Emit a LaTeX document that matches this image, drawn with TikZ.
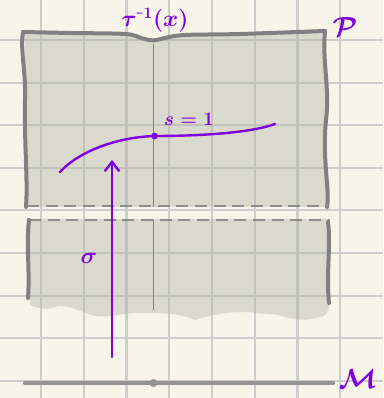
\documentclass[tikz,border=0pt]{standalone}
\usetikzlibrary{arrows.meta}
\definecolor{paper}{RGB}{247,245,234}
\definecolor{gridc}{RGB}{205,205,205}
\definecolor{sheet}{RGB}{180,180,165}
\definecolor{edgec}{RGB}{128,128,128}
\definecolor{viol}{RGB}{128,0,224}
\tikzset{
  gridline/.style={draw=gridc, line width=1.6pt},
  sheetfill/.style={fill=sheet, fill opacity=0.42, draw=none},
  sheetedge/.style={draw=edgec, line width=3pt, line cap=round, line join=round},
  cutedge/.style={draw=edgec!90, line width=1.5pt, dash pattern=on 9pt off 5pt},
  fibre/.style={draw=edgec, line width=1.1pt},
  curve/.style={draw=viol, line width=1.8pt, line cap=round},
  lab/.style={text=viol, inner sep=0pt},
  base/.style={draw=edgec!85, line width=3.2pt, line cap=round}
}
\begin{document}
\begin{tikzpicture}[x=0.75pt,y=-0.75pt]
\useasboundingbox (0,0) rectangle (383,398);
\fill[paper] (0,0) rectangle (383,398);
% grid
\foreach \gx in {41,84,126.5,169,212,255,297.5,340}
  \draw[gridline] (\gx,0) -- (\gx,398);
\foreach \gy in {40,83,125,168,210,253,296,338,381}
  \draw[gridline] (0,\gy) -- (383,\gy);
% upper sheet
\path[sheetfill] plot[smooth, tension=0.6] coordinates {(23,32) (70,33) (125,34) (141,38) (153,40.5) (165,38) (185,35) (240,34) (325,31)}
  .. controls (322,60) and (330,90) .. (326,120)
  .. controls (322,160) and (330,190) .. (327,207)
  -- (26,207) .. controls (24,180) and (28,140) .. (25,100)
  .. controls (22,70) and (28,50) .. (23,32) -- cycle;
% lower sheet with blobby bottom
\path[sheetfill] (28,219) -- (330,219) -- (329,303)
  .. controls (330,312) and (325,318) .. (315,318)
  .. controls (305,322) and (295,318) .. (288,318)
  .. controls (275,312) and (262,315) .. (250,312)
  .. controls (235,312) and (220,312) .. (195,320)
  .. controls (180,313) and (160,313) .. (140,313)
  .. controls (120,313) and (110,318) .. (95,316)
  .. controls (80,312) and (70,305) .. (58,306)
  .. controls (50,310) and (40,310) .. (30,305)
  -- (28,219) -- cycle;
% fibre line
\coordinate (ftop) at (153.5,44);
\coordinate (fmid1) at (153.5,207);
\coordinate (fmid2) at (153.5,220);
\coordinate (fbot) at (153.5,310);
\draw[fibre] (ftop) -- (fmid1);
\draw[fibre] (fmid2) -- (fbot);
% upper edges
\draw[sheetedge] (26,207) .. controls (28,180) and (24,140) .. (25,100)
  .. controls (26,70) and (20,50) .. (23,32);
\draw[sheetedge] plot[smooth, tension=0.6] coordinates {(23,32) (70,33) (125,34) (141,38) (153,40.5) (165,38) (185,35) (240,34) (325,31)};
\draw[sheetedge] (325,31) .. controls (322,60) and (330,90) .. (326,120)
  .. controls (322,160) and (330,190) .. (327,207);
% cut lines
\draw[cutedge] (27,206) -- (328,206);
\draw[cutedge] (29,220) -- (330,220);
% lower edges
\draw[sheetedge] (29,220) .. controls (26,245) and (30,270) .. (28,298);
\draw[sheetedge] (328,222) .. controls (331,245) and (326,275) .. (329,303);
% purple section curve
\coordinate (cstart) at (60,172);
\coordinate (cend) at (275,124);
\node[circle, fill=viol, inner sep=0pt, minimum size=5pt] (pt) at (154.5,136) {};
\draw[curve] (cstart) .. controls (80,150) and (120,137) .. (pt.center)
  .. controls (200,136) and (250,133) .. (cend);
% arrow
\coordinate (afoot) at (112,357);
\coordinate (ahead) at (112,160);
\draw[curve, -{Straight Barb[length=7pt,width=11pt,line width=1.8pt]}] (afoot) -- (ahead);
% base line
\coordinate (mleft) at (25,383);
\coordinate (mright) at (333,383);
\draw[base] (mleft) -- (mright);
\node[circle, fill=edgec!85, inner sep=0pt, minimum size=6pt] (x) at (153.5,383) {};
% labels
\node[lab, font=\fontsize{17}{19}\selectfont\boldmath] (tau) at (155,20) {$\tau^{\mbox{-}1}(x)$};
\node[lab, font=\fontsize{22}{24}\selectfont\boldmath] (P) at (345,27) {$\mathcal{P}$};
\node[lab, font=\fontsize{15}{17}\selectfont\boldmath] (s) at (189,119) {$s=1$};
\node[lab, font=\fontsize{18}{20}\selectfont\boldmath] (sig) at (89,258) {$\sigma$};
\node[lab, font=\fontsize{20}{22}\selectfont\boldmath] (M) at (358,379) {$\mathcal{M}$};
\end{tikzpicture}
\end{document}
